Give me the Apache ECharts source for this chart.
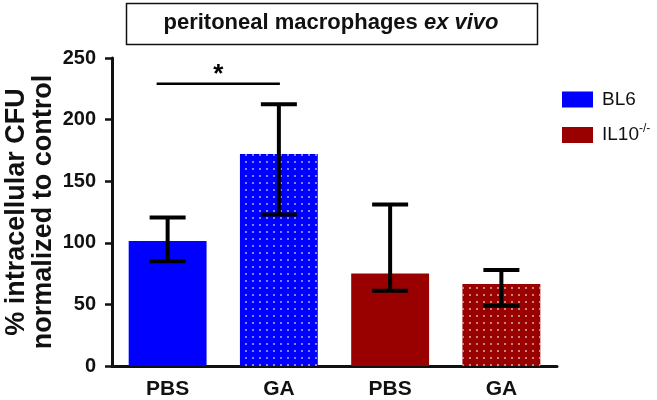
<!DOCTYPE html>
<html>
<head>
<meta charset="utf-8">
<script src="https://cdn.jsdelivr.net/npm/echarts@6/dist/echarts.min.js"></script>
<style>
  html, body { margin: 0; padding: 0; background: #fff; }
  #chart { width: 657px; height: 400px; }
</style>
</head>
<body>
<div id="chart"></div>
<script>
// data
const categories = ['PBS', 'GA', 'PBS', 'GA']
const bl6Values = [101.5, 172, '-', '-']
const il10Values = ['-', '-', 75, 66.5]
const errLow = [85, 123, 61, 49]
const errHigh = [120.5, 212.5, 131, 78]
const sigLine = [0, 1, 229]   // from category, to category, y value
const yTicks = [0, 50, 100, 150, 200, 250]

const FONT = 'Liberation Sans, Arial, sans-serif'
const BLUE = '#0000ff'
const RED = '#990000'

const dots = {
  symbol: 'rect',
  symbolSize: 1,
  color: 'rgba(255,255,255,0.5)',
  dashArrayX: [1.5, 4.5],
  dashArrayY: [1.5, 4.5]
}

function withDecal (vals, idx) {
  return vals.map((v, i) => (i === idx && v !== '-') ? { value: v, itemStyle: { decal: dots } } : v)
}

const chart = echarts.init(document.getElementById('chart'))

const option = {
  animation: false,
  title: {
    text: '{n|peritoneal macrophages }{i|ex vivo}',
    left: 331,
    top: 12,
    textAlign: 'center',
    padding: 0,
    textStyle: {
      rich: {
        n: { fontFamily: FONT, fontWeight: 'bold', fontSize: 22, color: '#111' },
        i: { fontFamily: FONT, fontWeight: 'bold', fontStyle: 'italic', fontSize: 22, color: '#111' }
      }
    }
  },
  graphic: [{
    type: 'rect',
    shape: { x: 126.5, y: 3.5, width: 411, height: 41 },
    style: { fill: 'none', stroke: '#111', lineWidth: 1.5 },
    z: 10
  }],
  legend: {
    orient: 'vertical',
    left: 557,
    top: 85,
    itemWidth: 31,
    itemHeight: 16,
    itemGap: 14,
    icon: 'rect',
    data: ['BL6', 'IL10'],
    formatter: function (name) {
      return name === 'IL10' ? '{n|IL10}{s|-/-}' : '{n|' + name + '}'
    },
    textStyle: {
      padding: [0, 0, 0, 4],
      rich: {
        n: { fontFamily: FONT, fontSize: 19, color: '#111' },
        s: { fontFamily: FONT, fontSize: 12, color: '#111', verticalAlign: 'bottom', padding: [0, 0, 12, 0] }
      }
    }
  },
  grid: { left: 112, right: 100, top: 58, bottom: 34, outerBoundsMode: 'none', containLabel: false },
  xAxis: {
    type: 'category',
    data: categories,
    axisLine: { lineStyle: { color: '#111', width: 3 } },
    axisTick: { show: false },
    axisLabel: { fontFamily: FONT, fontWeight: 'bold', fontSize: 21, color: '#111', margin: 13 }
  },
  yAxis: {
    type: 'value',
    min: yTicks[0],
    max: yTicks[yTicks.length - 1],
    interval: 50,
    name: '% intracellular CFU\nnormalized to control',
    nameLocation: 'middle',
    nameGap: 55,
    nameMoveOverlap: false,
    nameTextStyle: { fontFamily: FONT, fontWeight: 'bold', fontSize: 27, color: '#111', lineHeight: 27 },
    axisLine: { show: true, lineStyle: { color: '#111', width: 3 } },
    axisTick: { show: true, length: 7, lineStyle: { color: '#111', width: 2.5 } },
    splitLine: { show: false },
    axisLabel: { fontFamily: FONT, fontWeight: 'bold', fontSize: 20, color: '#111', margin: 16 }
  },
  series: [
    {
      name: 'BL6',
      type: 'bar',
      data: withDecal(bl6Values, 1),
      barWidth: '70%',
      barGap: '-100%',
      itemStyle: { color: BLUE }
    },
    {
      name: 'IL10',
      type: 'bar',
      data: withDecal(il10Values, 3),
      barWidth: '70%',
      barGap: '-100%',
      itemStyle: { color: RED }
    },
    {
      type: 'custom',
      name: 'err',
      data: categories.map((c, i) => [i, errLow[i], errHigh[i]]),
      encode: { x: 0, y: [1, 2] },
      z: 5,
      renderItem: function (params, api) {
        const lo = api.coord([api.value(0), api.value(1)])
        const hi = api.coord([api.value(0), api.value(2)])
        const half = 18
        const st = { stroke: '#000', lineWidth: 4 }
        return {
          type: 'group',
          children: [
            { type: 'line', shape: { x1: hi[0], y1: hi[1], x2: lo[0], y2: lo[1] }, style: st },
            { type: 'line', shape: { x1: hi[0] - half, y1: hi[1], x2: hi[0] + half, y2: hi[1] }, style: st },
            { type: 'line', shape: { x1: lo[0] - half, y1: lo[1], x2: lo[0] + half, y2: lo[1] }, style: st }
          ]
        }
      }
    },
    {
      type: 'custom',
      name: 'sig',
      data: [sigLine],
      encode: { x: [0, 1], y: 2 },
      z: 5,
      renderItem: function (params, api) {
        const a = api.coord([api.value(0), api.value(2)])
        const b = api.coord([api.value(1), api.value(2)])
        const x1 = a[0] - 11
        const x2 = b[0] + 1
        return {
          type: 'group',
          children: [
            { type: 'line', shape: { x1: x1, y1: a[1], x2: x2, y2: b[1] }, style: { stroke: '#000', lineWidth: 2.5 } },
            {
              type: 'text',
              x: (x1 + x2) / 2,
              y: a[1] + 4,
              style: { text: '*', fontFamily: FONT, fontWeight: 'bold', fontSize: 26, fill: '#000', align: 'center', verticalAlign: 'bottom' }
            }
          ]
        }
      }
    }
  ]
}

chart.setOption(option)
</script>
</body>
</html>
